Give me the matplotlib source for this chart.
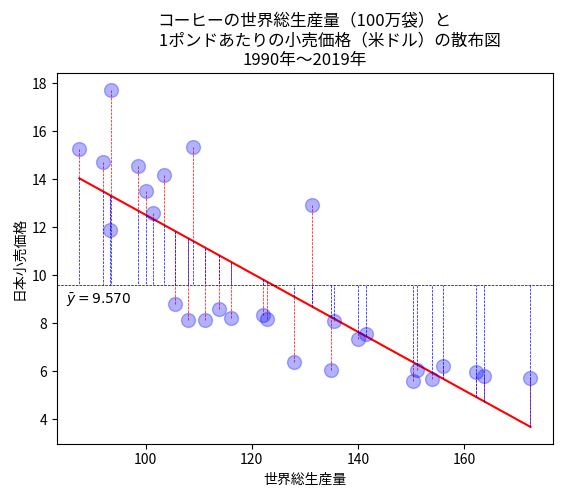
import numpy as np
import matplotlib
matplotlib.use("Agg")
import matplotlib.pyplot as plt

plt.rcParams['font.family'] = ['Noto Sans CJK JP', 'DejaVu Sans']

# World total production (million bags)
production = [87.49, 91.94, 93.40, 93.34, 98.62, 100.13, 101.45, 103.45, 105.53,
              108.06, 108.92, 111.19, 113.83, 116.09, 122.02, 122.77, 127.98,
              131.38, 134.96, 135.53, 140.06, 141.45, 150.43, 151.19, 154.02,
              156.09, 162.26, 163.83, 172.51]
# Japan retail price per pound (USD)
price = [15.26, 14.70, 17.70, 11.86, 14.55, 13.52, 12.60, 14.19, 8.79,
         8.14, 15.32, 8.14, 8.60, 8.22, 8.32, 8.18, 6.40,
         12.90, 6.06, 8.10, 7.35, 7.55, 5.61, 6.05, 5.66,
         6.23, 5.98, 5.82, 5.73]

title = "コーヒーの世界総生産量（100万袋）と\n　　　1ポンドあたりの小売価格（米ドル）の散布図\n1990年～2019年"
xlabel = "世界総生産量"
ylabel = "日本小売価格"

x = np.array(production)
y = np.array(price)
ybar = y.mean()
b, a = np.polyfit(x, y, 1)
yhat = a + b * x

fig = plt.figure(figsize=(5.62, 4.96), dpi=100)
ax = fig.add_axes([0.101, 0.1054, 0.883, 0.7466])

ax.scatter(x, y, s=100, color='blue', alpha=0.3, zorder=3)
order = np.argsort(x)
ax.plot(x[order], yhat[order], color='red', lw=1.5, zorder=2)
ax.axhline(ybar, color='black', ls='--', lw=0.5)
ax.vlines(x, y, yhat, colors='red', linestyles='--', lw=0.5)
ax.vlines(x, yhat, ybar, colors='blue', linestyles='--', lw=0.5)
ax.text(85.0, ybar - 0.25, r"$\bar{y}=$" + f"{ybar:.3f}", fontsize=10,
        va='top', ha='left', family='DejaVu Sans')

ax.set_title(title, fontsize=12)
ax.set_xlabel(xlabel, fontsize=10)
ax.set_ylabel(ylabel, fontsize=10)
ax.set_xticks([100, 120, 140, 160])
ax.set_yticks([4, 6, 8, 10, 12, 14, 16, 18])

fig.savefig("out.png", dpi=100)
